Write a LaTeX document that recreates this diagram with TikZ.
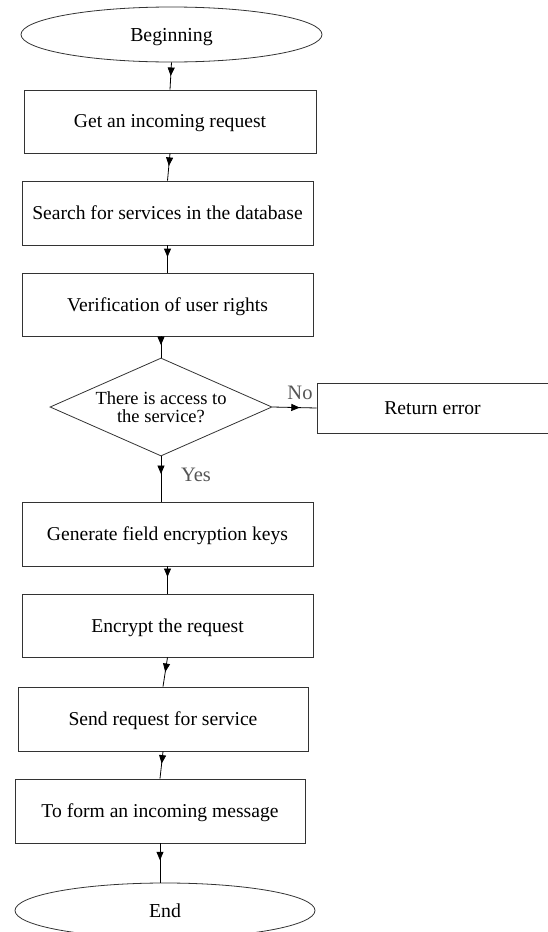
\documentclass[tikz,border=0pt]{standalone}
\usepackage{fontspec}
\setmainfont{Liberation Serif}
\usepackage{tikz}
\usetikzlibrary{arrows.meta,shapes.geometric,decorations.markings}
\definecolor{lbl}{HTML}{555555}
\definecolor{edge}{HTML}{333333}

\begin{document}
\begin{tikzpicture}[x=1pt,y=-1pt,
  proc/.style={draw=edge,line width=.8pt,inner sep=0pt,minimum width=291pt,
               minimum height=63pt,text depth=0pt,
               font=\fontsize{19.6}{22}\selectfont,align=center},
  term/.style={ellipse,draw=edge,line width=.8pt,inner sep=0pt,minimum width=301pt,
               minimum height=55pt,text depth=0pt,font=\fontsize{19.8}{22}\selectfont},
  cond/.style={diamond,draw=edge,line width=.8pt,inner sep=0pt,aspect=2.26,
               minimum width=222pt,minimum height=98pt,
               font=\fontsize{18.5}{18.5}\selectfont,align=center},
  flow/.style={draw=black,line width=.8pt,postaction={decorate},
               decoration={markings,mark=at position #1 with
                 {\arrow{Triangle[length=8.5pt,width=7pt]}}}},
  flow/.default=.5,
  lab/.style={text=lbl,font=\fontsize{20.5}{22}\selectfont,inner sep=0pt}
]
\useasboundingbox (0,0) rectangle (547,932);
\node[term] (beg) at (171.5,34.5) {Beginning};
\node[proc,minimum width=292pt] (get) at (170,121.5) {Get an incoming request};
\node[proc,minimum height=64pt] (search) at (167.5,213) {Search for services in the database};
\node[proc] (verify) at (167.5,304.5) {Verification of user rights};
\node[cond] (access) at (161,407) {There is access to\\the service?};
\node[proc,minimum width=231pt,minimum height=50pt] (err) at (432.5,408) {Return error};
\node[proc,minimum height=64pt] (keys) at (167.5,534) {Generate field encryption keys};
\node[proc] (enc) at (167.5,625.5) {Encrypt the request};
\node[proc,minimum width=290pt,minimum height=64pt] (send) at (163,719) {Send request for service};
\node[proc,minimum width=290pt,minimum height=64pt] (form) at (160,811) {To form an incoming message};
\node[term,minimum width=300pt] (end) at (165,910.5) {End};
\node[lab] (no) at (300,393) {No};
\node[lab] (yes) at (196,475) {Yes};
\draw[flow] (beg.south) -- (get.north);
\draw[flow=.46] (get.south) -- (search.north);
\draw[flow=.43] (search.south) -- (verify.north);
\draw[flow=.41] (access.north |- verify.south) -- (access.north);
\draw[flow=.62] (access.east) -- (err.west);
\draw[flow=.39] (access.south) -- (access.south |- keys.north);
\draw[flow=.39] (keys.south) -- (enc.north);
\draw[flow] (enc.south) -- (send.north);
\draw[flow=.45] (send.south) -- (form.north);
\draw[flow=.43] (form.south) -- (form.south |- end.north);
\end{tikzpicture}
\end{document}
